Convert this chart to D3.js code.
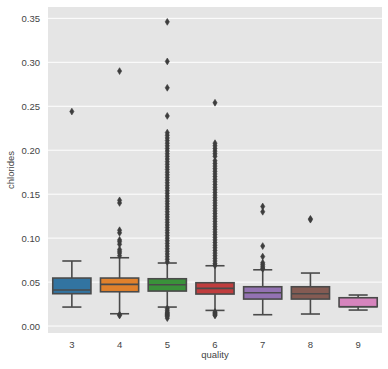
<!DOCTYPE html>
<html>
<head>
<meta charset="utf-8">
<script src="https://cdn.jsdelivr.net/npm/d3@7"></script>
<style>
  html, body { margin: 0; padding: 0; background: #ffffff; }
  svg { display: block; }
  text { font-family: "Liberation Sans", Arial, sans-serif; }
</style>
</head>
<body>
<svg id="chart" width="388" height="369"></svg>
<script>
// ---- data ----
const categories = ["3", "4", "5", "6", "7", "8", "9"];
const whiskerLow  = [0.0216, 0.0140, 0.0216, 0.0178, 0.0129, 0.0137, 0.0182];
const q1          = [0.0368, 0.0390, 0.0398, 0.0364, 0.0307, 0.0307, 0.0220];
const medians     = [0.0410, 0.0474, 0.0470, 0.0429, 0.0379, 0.0367, 0.0220];
const q3          = [0.0546, 0.0546, 0.0538, 0.0493, 0.0447, 0.0447, 0.0322];
const whiskerHigh = [0.0740, 0.0777, 0.0717, 0.0686, 0.0640, 0.0603, 0.0353];
const outliers3 = [0.244];
const outliers4 = [0.290, 0.143, 0.140, 0.109, 0.106, 0.098, 0.096, 0.093, 0.087, 0.085, 0.083, 0.080, 0.013, 0.012];
const outliers5 = [0.346, 0.301, 0.271, 0.239, 0.220, 0.217, 0.214, 0.211, 0.208, 0.205, 0.202, 0.199,
  0.196, 0.193, 0.190, 0.187, 0.184, 0.181, 0.178, 0.175, 0.172, 0.169, 0.166, 0.163, 0.160, 0.157,
  0.154, 0.151, 0.148, 0.145, 0.142, 0.139, 0.136, 0.133, 0.130, 0.127, 0.124, 0.121, 0.118, 0.115,
  0.112, 0.109, 0.106, 0.103, 0.100, 0.097, 0.094, 0.091, 0.088, 0.085, 0.082, 0.079, 0.076, 0.073,
  0.020, 0.018, 0.016, 0.015, 0.014, 0.013, 0.012, 0.011, 0.009];
const outliers6 = [0.254, 0.208, 0.205, 0.202, 0.199, 0.196, 0.193, 0.188, 0.185, 0.182, 0.179, 0.176,
  0.173, 0.170, 0.167, 0.164, 0.161, 0.158, 0.155, 0.152, 0.149, 0.146, 0.143, 0.140, 0.137, 0.134,
  0.131, 0.128, 0.125, 0.122, 0.119, 0.116, 0.113, 0.110, 0.107, 0.104, 0.101, 0.098, 0.095, 0.092,
  0.089, 0.086, 0.083, 0.080, 0.077, 0.074, 0.071, 0.069,
  0.016, 0.015, 0.014, 0.013, 0.012];
const outliers7 = [0.136, 0.130, 0.091, 0.079, 0.072, 0.070, 0.068, 0.066, 0.065];
const outliers8 = [0.122, 0.121];
const outliers9 = [];
const outlierLists = [outliers3, outliers4, outliers5, outliers6, outliers7, outliers8, outliers9];
const colors = ["#3274a1", "#e1812c", "#3a923a", "#c03d3e", "#9372b2", "#845b53", "#d684bd"];
const yTicks = [0.00, 0.05, 0.10, 0.15, 0.20, 0.25, 0.30, 0.35];
const xLabel = "quality";
const yLabel = "chlorides";

// ---- layout ----
const svg = d3.select("#chart");
const plot = { left: 48, right: 382, top: 7, bottom: 333 };
const lineColor = "#4a4a4a";
const textColor = "#444444";

const x = d3.scaleBand().domain(categories).range([plot.left, plot.right]).padding(0);
const y = d3.scaleLinear().domain([-0.0079, 0.3629]).range([plot.bottom, plot.top]);

// background
svg.append("rect")
  .attr("x", plot.left).attr("y", plot.top)
  .attr("width", plot.right - plot.left).attr("height", plot.bottom - plot.top)
  .attr("fill", "#e5e5e5");

// grid
svg.append("g").selectAll("line").data(yTicks).join("line")
  .attr("x1", plot.left).attr("x2", plot.right)
  .attr("y1", d => y(d)).attr("y2", d => y(d))
  .attr("stroke", "#ffffff").attr("stroke-width", 1);

// axes (labels only)
const yAxis = d3.axisLeft(y).tickValues(yTicks).tickFormat(d3.format(".2f")).tickSize(0).tickPadding(8);
const gy = svg.append("g").attr("transform", `translate(${plot.left},0)`).call(yAxis);
gy.select(".domain").remove();
gy.selectAll("text").attr("font-size", "9.5px").attr("fill", textColor)
  .attr("font-family", "'Liberation Sans', Arial, sans-serif");

const xAxis = d3.axisBottom(x).tickSize(0).tickPadding(8);
const gx = svg.append("g").attr("transform", `translate(0,${plot.bottom})`).call(xAxis);
gx.select(".domain").remove();
gx.selectAll("text").attr("font-size", "9.5px").attr("fill", textColor)
  .attr("font-family", "'Liberation Sans', Arial, sans-serif");

// axis labels
svg.append("text")
  .attr("x", (plot.left + plot.right) / 2).attr("y", 358)
  .attr("text-anchor", "middle").attr("font-size", "9.5px").attr("fill", textColor)
  .text(xLabel);
svg.append("text")
  .attr("transform", `translate(14,${(plot.top + plot.bottom) / 2}) rotate(-90)`)
  .attr("text-anchor", "middle").attr("font-size", "9.5px").attr("fill", textColor)
  .text(yLabel);

// boxes
const bw = x.bandwidth() * 0.8;
const capW = bw / 2;
const boxes = svg.append("g");
categories.forEach((c, i) => {
  const cx = x(c) + x.bandwidth() / 2;
  const g = boxes.append("g");
  // whiskers
  g.append("line").attr("x1", cx).attr("x2", cx)
    .attr("y1", y(q3[i])).attr("y2", y(whiskerHigh[i]))
    .attr("stroke", lineColor).attr("stroke-width", 1.6);
  g.append("line").attr("x1", cx).attr("x2", cx)
    .attr("y1", y(q1[i])).attr("y2", y(whiskerLow[i]))
    .attr("stroke", lineColor).attr("stroke-width", 1.6);
  // caps
  [whiskerHigh[i], whiskerLow[i]].forEach(v => {
    g.append("line").attr("x1", cx - capW / 2).attr("x2", cx + capW / 2)
      .attr("y1", y(v)).attr("y2", y(v))
      .attr("stroke", lineColor).attr("stroke-width", 1.6);
  });
  // box
  g.append("rect")
    .attr("x", cx - bw / 2).attr("width", bw)
    .attr("y", y(q3[i])).attr("height", y(q1[i]) - y(q3[i]))
    .attr("fill", colors[i]).attr("stroke", lineColor).attr("stroke-width", 1.6);
  // median
  g.append("line").attr("x1", cx - bw / 2).attr("x2", cx + bw / 2)
    .attr("y1", y(medians[i])).attr("y2", y(medians[i]))
    .attr("stroke", lineColor).attr("stroke-width", 1.6);
  // outliers (thin diamonds)
  const dh = 3.4, dw = 2.1;
  g.append("g").selectAll("path").data(outlierLists[i]).join("path")
    .attr("transform", d => `translate(${cx},${y(d)})`)
    .attr("d", `M0,${-dh}L${dw},0L0,${dh}L${-dw},0Z`)
    .attr("fill", "#3d3d3d").attr("stroke", "#3d3d3d").attr("stroke-width", 0.6);
});
</script>
</body>
</html>
